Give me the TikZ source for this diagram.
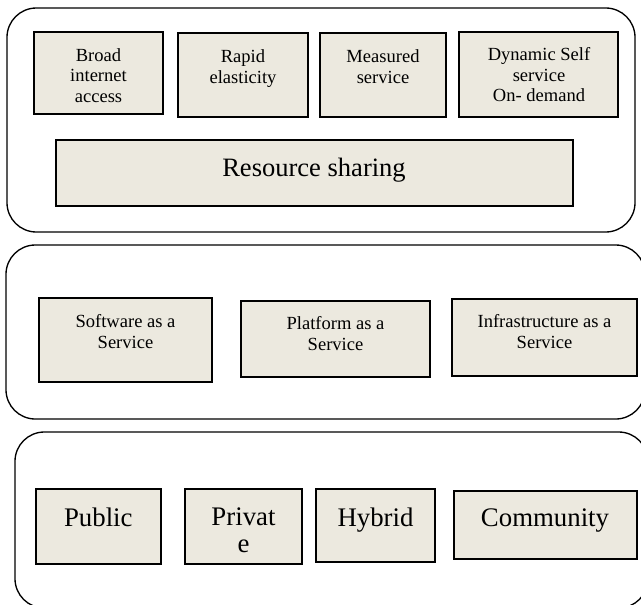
\documentclass[tikz,border=0pt]{standalone}
\usepackage{fontspec}
\setmainfont{Liberation Serif}
\usepackage{tikz}
\usetikzlibrary{positioning}
\definecolor{boxfill}{RGB}{236,233,223}
\tikzset{panel/.style = {draw,line width=1pt,rounded corners=22pt},
         cbox/.style = {rectangle,draw,line width=1.4pt,fill=boxfill,inner sep=0pt},
         lbl/.style = {anchor=north,inner sep=0pt,align=center,font=\fontsize{13.9}{15.4}\selectfont},
         biglbl/.style = {lbl,font=\fontsize{20.1}{20.4}\selectfont}}

\begin{document}
\begin{tikzpicture}[x=0.75pt, y=-0.75pt]
            \useasboundingbox (0,0) rectangle (641,604);
            \clip (0,0) rectangle (641,604);

            % three layers
            \draw[panel] (7,8) rectangle (635,232);
            \draw[panel] (6,245) rectangle (645,419);
            \draw[panel] (15,432) rectangle (648,608);

            % characteristics
            \node[cbox, minimum width=96.75pt, minimum height=61.5pt]  (broad)    at (98.5,73)   {};
            \node[cbox, minimum width=97.5pt,  minimum height=63pt]    (rapid)    at (243,75)    {};
            \node[cbox, minimum width=94.5pt,  minimum height=63pt]    (measured) at (383,75)    {};
            \node[cbox, minimum width=119.25pt,minimum height=63.75pt] (dynamic)  at (538.5,74.5) {};
            \node[cbox, minimum width=387.75pt,minimum height=49.5pt]  (sharing)  at (314.5,173) {};

            \node[lbl] (broad-t)    at (98.5,48)  {Broad\\internet\\access};
            \node[lbl] (rapid-t)    at (243,49.4) {Rapid\\elasticity};
            \node[lbl] (measured-t) at (383,49.4) {Measured\\service};
            \node[lbl] (dynamic-t)  at (539,47.4) {Dynamic Self\\service\\On- demand};
            \node[lbl, font=\fontsize{19.9}{21}\selectfont] (sharing-t) at (314,158) {Resource sharing};

            % service models
            \node[cbox, minimum width=129.75pt,minimum height=63pt]    (saas) at (125.5,340)  {};
            \node[cbox, minimum width=141.75pt,minimum height=57pt]    (paas) at (335.5,339)  {};
            \node[cbox, minimum width=138.75pt,minimum height=57.75pt] (iaas) at (544.5,337.5) {};

            \node[lbl] (saas-t) at (125.5,314.4) {Software as a\\Service};
            \node[lbl] (paas-t) at (335.5,316.4) {Platform as a\\Service};
            \node[lbl] (iaas-t) at (544.5,314.4) {Infrastructure as a\\Service};

            % deployment models
            \node[cbox, minimum width=93.75pt, minimum height=56.25pt] (public)    at (98.5,526.5)  {};
            \node[cbox, minimum width=87.75pt, minimum height=56.25pt] (private)   at (243.5,526.5) {};
            \node[cbox, minimum width=89.25pt, minimum height=54.75pt] (hybrid)    at (375.5,525.5) {};
            \node[cbox, minimum width=137.25pt,minimum height=51pt]    (community) at (545.5,525)   {};

            \node[biglbl] (public-t)    at (98.3,507.6)  {Public};
            \node[biglbl] (private-t)   at (243.5,507.6) {Privat\\e};
            \node[biglbl] (hybrid-t)    at (375.5,507.6) {Hybrid};
            \node[biglbl] (community-t) at (545,508.6)   {Community};
        \end{tikzpicture}
\end{document}
